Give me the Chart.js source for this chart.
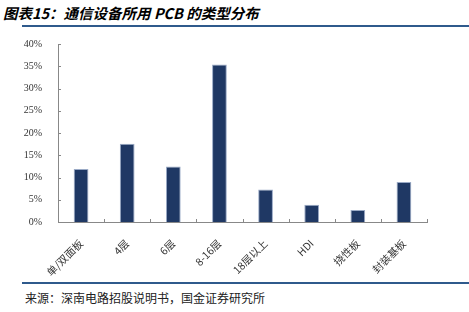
<!DOCTYPE html>
<html>
<head>
<meta charset="utf-8">
<script src="https://cdn.jsdelivr.net/npm/chart.js@4"></script>
<style>
body{margin:0;width:469px;height:312px;background:#fff;position:relative;overflow:hidden}
#title{position:absolute;left:3px;top:2px;font-family:"Noto Sans CJK SC";font-weight:bold;font-style:italic;font-size:14.5px;color:#000;white-space:nowrap}
.rule{position:absolute;left:22px;right:0;height:2px;background:#2f5a8c}
#source{position:absolute;left:25px;top:289px;font-family:"Noto Sans CJK SC";font-size:12px;color:#222;white-space:nowrap}
#wrap{position:absolute;left:0;top:30px;width:469px;height:250px}
</style>
</head>
<body>
<div id="title">图表15：通信设备所用 PCB 的类型分布</div>
<div class="rule" style="top:25px"></div>
<div id="wrap"><canvas id="pcb_type_chart"></canvas></div>
<div class="rule" style="top:282px"></div>
<div id="source">来源：深南电路招股说明书，国金证券研究所</div>
<script>
// categories + share values
const categories = ['单/双面板','4层','6层','8-16层','18层以上','HDI','挠性板','封装基板']
const shares = [11.9, 17.6, 12.5, 35.4, 7.3, 3.9, 2.7, 9.0]
const yTicks = [0,5,10,15,20,25,30,35,40]

// small ticks pointing into the plot, like the original
const innerTicks = {
    id:'innerTicks',
    afterDraw(chart){
        const ctx = chart.ctx
        const x = chart.scales.x, y = chart.scales.y
        ctx.save()
        ctx.strokeStyle = '#888'
        ctx.lineWidth = 1
        ctx.beginPath()
        yTicks.forEach(v=>{
            let py = Math.round(y.getPixelForValue(v))+0.5
            ctx.moveTo(x.left, py); ctx.lineTo(x.left+3, py)
        })
        let step = (x.right-x.left)/categories.length
        for(let i=1;i<=categories.length;i++){
            let px = Math.round(x.left+i*step)+0.5
            ctx.moveTo(px, y.bottom); ctx.lineTo(px, y.bottom-3)
        }
        ctx.stroke()
        ctx.restore()
    }
}

const ctx = document.getElementById('pcb_type_chart').getContext('2d');
const myChart = new Chart(ctx, {
    type: 'bar',
    data: {
        labels: categories,
        datasets: [{
            data: shares,
            backgroundColor: '#1f3864',
            borderColor: '#9aaac6',
            borderWidth: 1,
            barPercentage: 0.64,
            categoryPercentage: 0.5
        }]
    },
    options: {
        responsive: true,
        maintainAspectRatio: false,
        animation: false,
        layout: { padding: { top: 14, right: 42, left: 0, bottom: 0 } },
        plugins: { legend: { display: false }, tooltip: { enabled: false } },
        scales: {
            x: {
                afterFit(scale){ scale.height = 58 },
                grid: { display: false },
                border: { color: '#888', width: 1 },
                ticks: {
                    color: '#333',
                    font: { family: 'Noto Sans CJK SC', size: 10.5 },
                    maxRotation: 45, minRotation: 45,
                    padding: 7
                }
            },
            y: {
                min: 0, max: 40,
                afterFit(scale){ scale.width = 58 },
                afterBuildTicks(scale){ scale.ticks = yTicks.map(v=>({value:v})) },
                grid: { display: false },
                border: { color: '#888', width: 1 },
                ticks: {
                    color: '#333',
                    font: { family: 'Liberation Serif', size: 10 },
                    padding: 8,
                    callback: v => v + '%'
                }
            }
        }
    },
    plugins: [innerTicks]
});
</script>
</body>
</html>
